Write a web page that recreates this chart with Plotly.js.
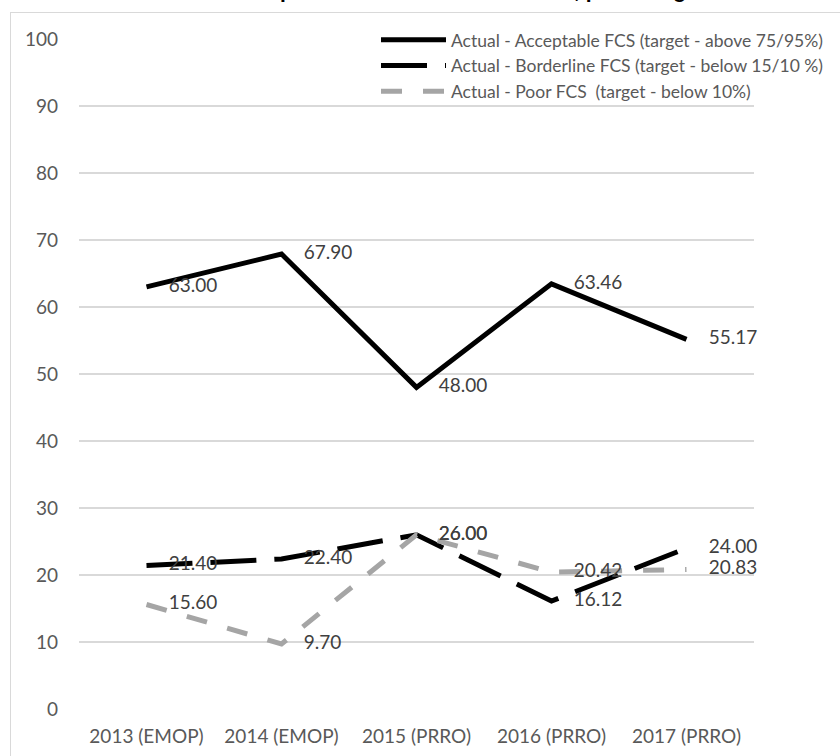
<!DOCTYPE html>
<html>
<head>
<meta charset="utf-8">
<script src="https://cdn.plot.ly/plotly-3.0.1.min.js"></script>
<style>
  html, body { margin: 0; padding: 0; background: #ffffff; }
  #wrap { position: relative; width: 840px; height: 756px; overflow: hidden; }
  #chart { position: absolute; left: 0; top: 0; width: 840px; height: 756px; }
  #frame { position: absolute; left: 10px; top: 12px; width: 900px; height: 900px; border: 1px solid #d9d9d9; box-sizing: border-box; pointer-events: none; }
</style>
</head>
<body>
<div id="wrap">
  <div id="chart"></div>
  <div id="frame"></div>
</div>
<script>
const categories = ["2013 (EMOP)", "2014 (EMOP)", "2015 (PRRO)", "2016 (PRRO)", "2017 (PRRO)"];
const acceptable = [63.00, 67.90, 48.00, 63.46, 55.17];
const borderline = [21.40, 22.40, 26.00, 16.12, 24.00];
const poor = [15.60, 9.70, 26.00, 20.42, 20.83];
const seriesNames = [
  "Actual - Acceptable FCS (target - above 75/95%)",
  "Actual - Borderline FCS (target - below 15/10 %)",
  "Actual - Poor FCS\u00a0 (target - below 10%)"
];
const titleText = "Outcome: Food Consumption Score of all households, percentage";

const FONT = "Lato, 'Liberation Sans', sans-serif";
const labelFont = { family: FONT, size: 19, color: "#404040" };
function fmt(arr) { return arr.map(v => v.toFixed(2)); }
const hiddenMarker = { size: 34, color: "rgba(0,0,0,0)", line: { width: 0 } };

const traces = [
  { x: categories, y: acceptable, name: seriesNames[0], mode: "lines+markers+text",
    text: fmt(acceptable), textposition: "middle right", textfont: labelFont, marker: hiddenMarker,
    cliponaxis: false, line: { color: "#000000", width: 5 } },
  { x: categories, y: borderline, name: seriesNames[1], mode: "lines+markers+text",
    text: fmt(borderline), textposition: "middle right", textfont: labelFont, marker: hiddenMarker,
    cliponaxis: false, line: { color: "#000000", width: 5, dash: "46px,18px" } },
  { x: categories, y: poor, name: seriesNames[2], mode: "lines+markers+text",
    text: fmt(poor), textposition: "middle right", textfont: labelFont, marker: hiddenMarker,
    cliponaxis: false, line: { color: "#a5a5a5", width: 5, dash: "21px,21px" } }
];

const layout = {
  width: 840, height: 756,
  paper_bgcolor: "#ffffff", plot_bgcolor: "#ffffff",
  margin: { l: 79, r: 69, t: 39, b: 47 },
  showlegend: true,
  annotations: [
    { text: "<b>" + titleText + "</b>", xref: "paper", yref: "paper",
      x: -0.0679, xanchor: "left", y: 1.0731, yanchor: "middle", showarrow: false,
      font: { family: "'Liberation Sans', sans-serif", size: 21, color: "#000000" } }
  ],
  legend: { x: 0.44, xanchor: "left", y: 1.0254, yanchor: "top", bgcolor: "rgba(0,0,0,0)",
            font: { family: FONT, size: 17.5, color: "#595959" },
            tracegroupgap: 0, itemwidth: 65 },
  xaxis: { type: "category", range: [-0.5, 4.5], autorange: false,
           showgrid: false, zeroline: false, showline: false, ticks: "",
           ticklabelstandoff: 14,
           tickfont: { family: FONT, size: 19, color: "#595959" },
           fixedrange: true },
  yaxis: { range: [0, 100], autorange: false, dtick: 10, showgrid: true, gridcolor: "#d9d9d9", gridwidth: 1.5,
           zeroline: false, showline: false, ticks: "", ticklabelstandoff: 20,
           tickfont: { family: FONT, size: 19, color: "#595959" },
           fixedrange: true }
};

Plotly.newPlot("chart", traces, layout, { staticPlot: true, displayModeBar: false });
</script>
</body>
</html>
